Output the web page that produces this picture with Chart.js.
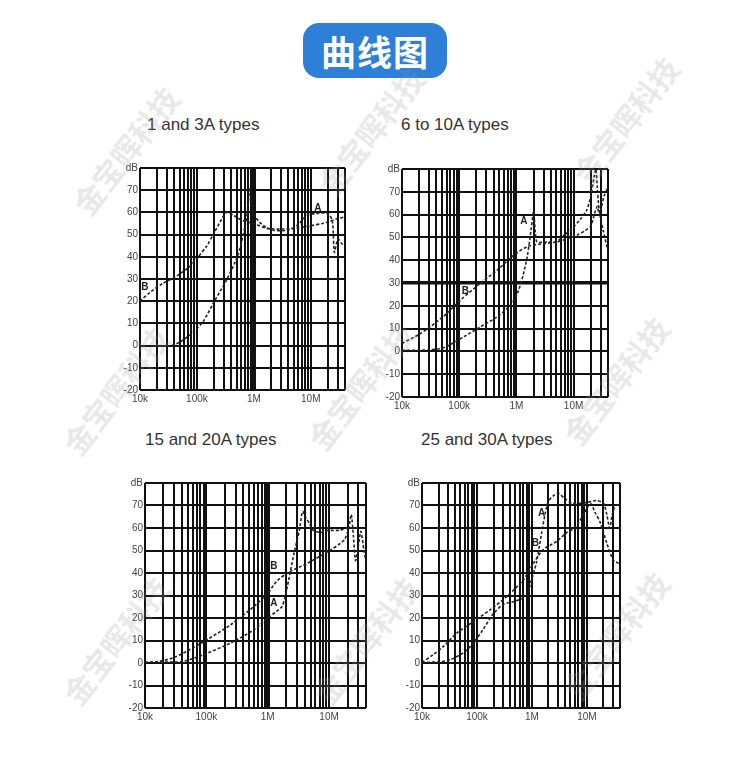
<!DOCTYPE html>
<html>
<head>
<meta charset="utf-8">
<script src="https://cdn.jsdelivr.net/npm/chart.js@4.4.0/dist/chart.umd.min.js"></script>
<style>
  body { margin: 0; background: #fff; }
  #page { position: relative; width: 750px; height: 782px; overflow: hidden; background: #fff; }
  .badge {
    position: absolute; left: 303px; top: 23px; width: 144px; height: 55px;
    border-radius: 16px; background: #2e7fd8; color: #fff;
    font-family: "Noto Sans CJK SC", sans-serif; font-weight: bold; font-size: 35px;
    line-height: 55px; text-align: center; letter-spacing: 1px;
  }
  .title {
    position: absolute; font-family: "Liberation Sans", Arial, sans-serif;
    font-size: 17px; line-height: 17px; color: #333; white-space: nowrap;
  }
  .box { position: absolute; }
  .wm {
    position: absolute; font-family: "Noto Sans CJK SC", sans-serif; font-size: 30px;
    color: rgba(150, 150, 150, 0.22); white-space: nowrap; pointer-events: none;
    transform: translate(-50%, -50%) rotate(-52deg); font-weight: bold;
  }
</style>
</head>
<body>
<div id="page">
  <div class="badge">曲线图</div>

  <div class="title" style="left:147px;top:116px;">1 and 3A types</div>
  <div class="title" style="left:401px;top:116px;">6 to 10A types</div>
  <div class="title" style="left:145px;top:431px;">15 and 20A types</div>
  <div class="title" style="left:421px;top:431px;">25 and 30A types</div>

  <div class="box" style="left:110px;top:160px;"><canvas id="c1" width="241" height="250"></canvas></div>
  <div class="box" style="left:372px;top:161px;"><canvas id="c2" width="242" height="256"></canvas></div>
  <div class="box" style="left:115px;top:475px;"><canvas id="c3" width="257" height="253"></canvas></div>
  <div class="box" style="left:392px;top:475px;"><canvas id="c4" width="234" height="253"></canvas></div>
</div>

<script>
// frequency axis (Hz) and dB axis
const freqMin = 10000;
const freqMax = 40000000;
const decades = [1e4, 1e5, 1e6, 1e7];
const freqTickLabels = { 10000: '10k', 100000: '100k', 1000000: '1M', 10000000: '10M' };
const dbMin = -20;
const dbMax = 80;

// 1 and 3A types
const curveA1 = [[36e3,0],[50e3,1.5],[86e3,6],[130e3,11],[193e3,19],[330e3,29.5],[530e3,41],[700e3,53.6],
  [780e3,61],[850e3,71],[920e3,64],[1e6,59],[1.4e6,54.5],[2.2e6,52],[4e6,52],[6e6,54.5],[8.4e6,58.5],
  [12e6,59.5],[20e6,59.5],[24e6,56],[26e6,42],[30e6,48],[35e6,46],[40e6,45]];
const curveB1 = [[10e3,20],[15e3,24],[25e3,28],[38e3,30.3],[70e3,35],[100e3,39.3],[150e3,45],[193e3,50],
  [260e3,56],[330e3,60],[450e3,58.5],[650e3,56.2],[1e6,55],[1.7e6,52.8],[3.3e6,52.5],[6e6,53],[10e6,54],
  [16e6,55],[22e6,56],[28e6,57],[40e6,58]];

// 6 to 10A types
const curveA2 = [[10e3,0.5],[20e3,0.5],[31e3,0.7],[45e3,1.2],[61e3,2.2],[120e3,6.4],[236e3,10.8],[465e3,15.2],
  [700e3,19],[910e3,22.5],[1.1e6,27],[1.3e6,33],[1.56e6,42],[1.8e6,53],[2e6,61],[2.15e6,52],[2.3e6,48],
  [3.5e6,48],[5e6,48],[6.5e6,50.5],[9e6,53.5],[13e6,57.8],[17e6,62],[20e6,68],[23e6,77],[24.5e6,80],
  [26e6,72],[28e6,62],[33e6,53],[40e6,44]];
const curveB2 = [[10e3,3.5],[20e3,7.5],[31e3,10.8],[60e3,16.5],[105e3,22.5],[236e3,29.9],[465e3,35.7],
  [910e3,42.3],[1.56e6,46],[2.5e6,47],[5e6,48],[8e6,49.5],[11.5e6,51],[16e6,53],[20e6,55],[23e6,60],
  [26e6,63.6],[28e6,60],[30e6,62],[34e6,68],[40e6,72]];

// 15 and 20A types
const curveA3 = [[10e3,0.3],[25e3,0.4],[42e3,0.7],[90e3,3.7],[250e3,8.9],[600e3,14.8],[1e6,20],[1.4e6,23],
  [1.7e6,25],[1.9e6,29],[2.2e6,37],[2.7e6,49],[3.3e6,59.3],[3.7e6,67.4],[4.2e6,64.5],[4.8e6,62],
  [5.4e6,59.2],[7.3e6,58],[9.5e6,58.9],[15e6,59],[20e6,60],[30e6,60],[40e6,60]];
const curveB3 = [[10e3,0.3],[17e3,0.7],[30e3,2.5],[48e3,5.2],[103e3,10.4],[250e3,17],[600e3,25.2],[1e6,31],
  [1.4e6,36.3],[2.1e6,40],[4.5e6,44.4],[10.8e6,50.4],[15e6,53],[18e6,55],[21e6,60],[23e6,66],[25e6,56],
  [27e6,45.5],[30e6,52],[33e6,58.5],[37e6,50],[40e6,45]];

// 25 and 30A types
const curveA4 = [[10e3,0.3],[20e3,0.5],[33e3,1.5],[60e3,5],[87e3,9],[130e3,15],[200e3,22],[300e3,26],
  [500e3,27.5],[800e3,30],[930e3,35],[1.2e6,44.4],[1.5e6,57.8],[1.75e6,66.7],[2e6,71.9],[2.5e6,74.5],
  [3e6,75.5],[4e6,73],[5.3e6,71.1],[8.7e6,71.1],[15e6,72.2],[20e6,71],[23e6,66],[26e6,60],[29e6,66],
  [33e6,70],[40e6,70.5]];
const curveB4 = [[10e3,0.3],[16e3,3.7],[25e3,7.5],[43e3,13.3],[87e3,18.5],[175e3,23.7],[350e3,29.6],
  [700e3,37],[1.07e6,44.4],[1.6e6,50.4],[2.8e6,54],[4.3e6,58],[6e6,60],[8.7e6,66],[11.6e6,71],[14e6,67],
  [17.5e6,62.4],[23e6,53.3],[30e6,45.9],[40e6,44]];

// curve name markers (frequency, dB)
const marks1 = [['A', 13.4e6, 62], ['B', 12.2e3, 26.5]];
const marks2 = [['A', 1.35e6, 57], ['B', 128e3, 26.3]];
const marks3 = [['B', 1.26e6, 43], ['A', 1.26e6, 26.7]];
const marks4 = [['A', 1.5e6, 66.7], ['B', 1.15e6, 53.3]];

// watermark centres
const watermarks = [[125,150],[370,130],[625,120],[115,390],[360,385],[615,380],[115,640],[365,640],[615,635]];

const freqGrid = [];
decades.forEach(d => {
  for (let k = 1; k <= 9; k++) {
    if (d * k <= freqMax) freqGrid.push(d * k);
  }
});
freqGrid.push(freqMax);

const markPlugin = {
  id: 'marks',
  afterDatasetsDraw(chart) {
    const marks = chart.options.plugins.marks.items;
    const c = chart.ctx;
    c.save();
    c.fillStyle = '#222';
    c.font = 'bold 10px "Liberation Sans", Arial';
    c.textAlign = 'center';
    c.textBaseline = 'middle';
    marks.forEach(m => {
      c.fillText(m[0], chart.scales.x.getPixelForValue(m[1]), chart.scales.y.getPixelForValue(m[2]));
    });
    c.restore();
  }
};

function makeChart(id, curveA, curveB, marks, boldX, boldY) {
  const toPts = arr => arr.map(p => ({ x: p[0], y: p[1] }));
  const lineStyle = {
    borderColor: '#222',
    borderWidth: 1.6,
    borderDash: [3, 2],
    pointRadius: 0,
    tension: 0.25,
    fill: false
  };
  return new Chart(document.getElementById(id), {
    type: 'line',
    data: {
      datasets: [
        Object.assign({ label: 'A', data: toPts(curveA) }, lineStyle),
        Object.assign({ label: 'B', data: toPts(curveB) }, lineStyle)
      ]
    },
    options: {
      responsive: false,
      animation: false,
      layout: { padding: { top: 8, right: 6, left: 0, bottom: 0 } },
      plugins: {
        legend: { display: false },
        tooltip: { enabled: false },
        marks: { items: marks }
      },
      scales: {
        x: {
          type: 'logarithmic',
          min: freqMin,
          max: freqMax,
          afterBuildTicks: s => { s.ticks = freqGrid.map(v => ({ value: v })); },
          afterFit: s => { s.height = 20; },
          grid: {
            color: '#111',
            lineWidth: ctx => (boldX && ctx.tick && ctx.tick.value === boldX) ? 4 : 2,
            drawTicks: false
          },
          border: { display: false },
          ticks: {
            autoSkip: false,
            maxRotation: 0,
            padding: 3,
            color: '#444',
            font: { family: 'Liberation Sans', size: 10 },
            callback: v => freqTickLabels[v] || ''
          }
        },
        y: {
          min: dbMin,
          max: dbMax,
          afterFit: s => { s.width = 30; },
          grid: {
            color: '#111',
            lineWidth: ctx => (boldY !== null && ctx.tick && ctx.tick.value === boldY) ? 3.5 : 2,
            drawTicks: false
          },
          border: { display: false },
          ticks: {
            stepSize: 10,
            padding: 2,
            color: '#444',
            font: { family: 'Liberation Sans', size: 10 },
            callback: v => v === dbMax ? 'dB' : v
          }
        }
      }
    },
    plugins: [markPlugin]
  });
}

makeChart('c1', curveA1, curveB1, marks1, 1e6, null);
makeChart('c2', curveA2, curveB2, marks2, null, 30);
makeChart('c3', curveA3, curveB3, marks3, 1e6, null);
makeChart('c4', curveA4, curveB4, marks4, null, null);

const page = document.getElementById('page');
watermarks.forEach(w => {
  const d = document.createElement('div');
  d.className = 'wm';
  d.style.left = w[0] + 'px';
  d.style.top = w[1] + 'px';
  d.textContent = '金宝晖科技';
  page.appendChild(d);
});
</script>
</body>
</html>
